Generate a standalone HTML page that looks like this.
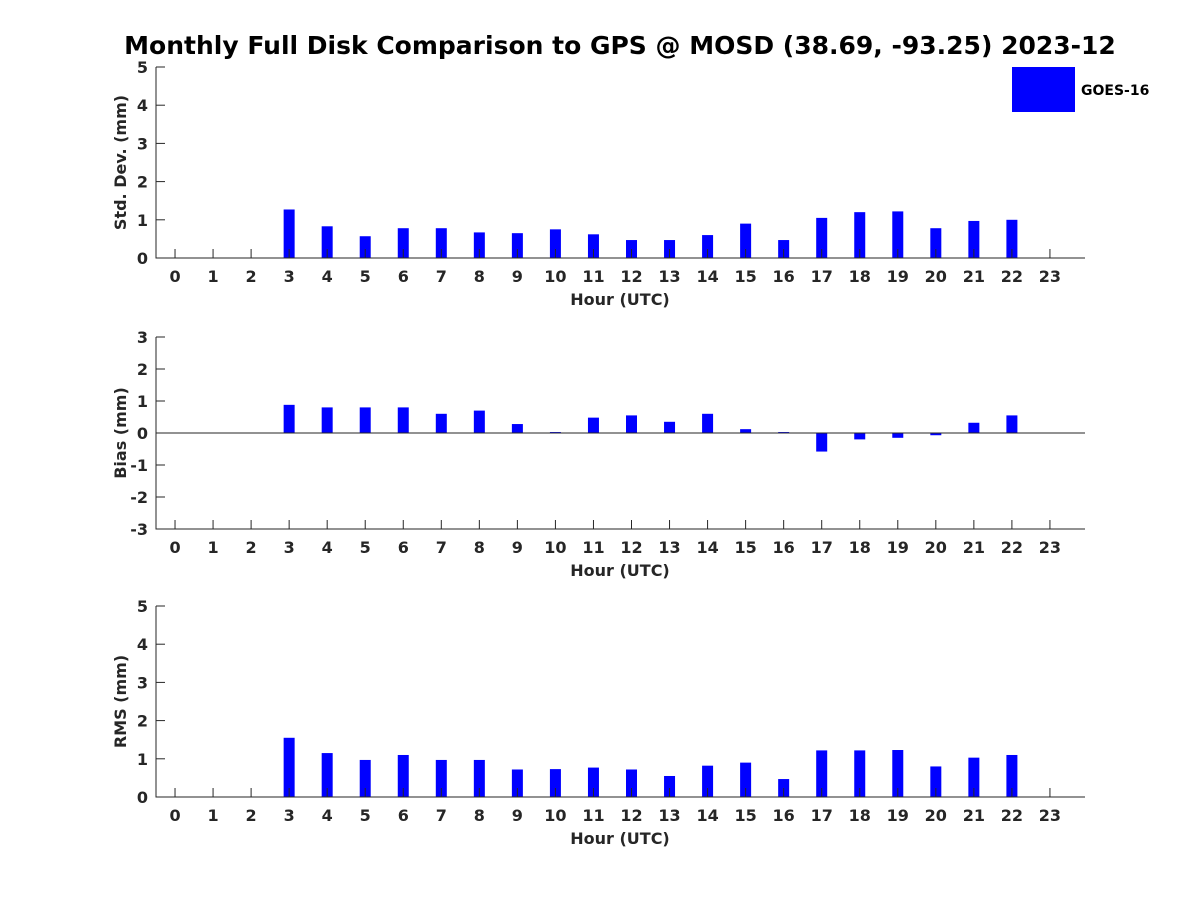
<!DOCTYPE html>
<html><head><meta charset="utf-8"><style>
body{margin:0;background:#fff;}
svg text{font-family:"DejaVu Sans","Liberation Sans",sans-serif;font-weight:bold;fill:#262626;}
</style></head><body>
<svg id="chart" width="1200" height="900" xmlns="http://www.w3.org/2000/svg">
<rect width="1200" height="900" fill="#fff"/>
<text x="620" y="54" font-size="25" text-anchor="middle" fill="#000" style="fill:#000">Monthly Full Disk Comparison to GPS @ MOSD (38.69, -93.25) 2023-12</text>
<rect x="1012" y="67" width="63" height="45" fill="#0000ff"/>
<text x="1081" y="95" font-size="14" style="fill:#000">GOES-16</text>
</svg>
<script>
const hours=[...Array(24).keys()];
const stdVals=[null,null,null,1.27,0.83,0.57,0.78,0.78,0.67,0.65,0.75,0.62,0.47,0.47,0.6,0.9,0.47,1.05,1.2,1.22,0.78,0.97,1.0,null];
const biasVals=[null,null,null,0.88,0.8,0.8,0.8,0.6,0.7,0.28,0.03,0.48,0.55,0.35,0.6,0.12,0.03,-0.58,-0.2,-0.15,-0.07,0.32,0.55,null];
const rmsVals=[null,null,null,1.55,1.15,0.97,1.1,0.97,0.97,0.72,0.73,0.77,0.72,0.55,0.82,0.9,0.47,1.22,1.22,1.23,0.8,1.03,1.1,null];
const stdTicks=[0,1,2,3,4,5];
const biasTicks=[-3,-2,-1,0,1,2,3];
const rmsTicks=[0,1,2,3,4,5];
const svg=document.getElementById('chart');
const NS='http://www.w3.org/2000/svg';
function mk(tag,attrs){const e=document.createElementNS(NS,tag);for(const k in attrs)e.setAttribute(k,attrs[k]);svg.appendChild(e);return e;}
const L=156,R=1085;
const xS=h=>L+(h+0.5)*38.04;
function panel(name,top,bot,ymin,ymax,vals,ticks,ylabel){
  const yS=v=>bot-(v-ymin)/(ymax-ymin)*(bot-top);
  const g=mk('g',{});
  
  
  vals.forEach((v,i)=>{
    if(v==null)return;
    const y0=yS(0),y1=yS(v);
    const b=mk('rect',{x:xS(i)-5.5,y:Math.min(y0,y1),width:11,height:Math.max(Math.abs(y1-y0),0.8),fill:'#0000ff'});
    
    
  });
  const ax=mk('path',{d:`M${L},${top}V${bot}H${R}`,stroke:'#262626','stroke-width':1,fill:'none'});
  
  
  if(ymin<0){const z=mk('line',{x1:L,x2:R,y1:yS(0),y2:yS(0),stroke:'#262626'});}
  ticks.forEach(t=>{
    const y=yS(t);
    mk('line',{x1:L,x2:L+9,y1:y,y2:y,stroke:'#262626'});
    const tx=mk('text',{x:L-8,y:y+6,'font-size':16,'text-anchor':'end'});tx.textContent=t;
    
    
  });
  hours.forEach(h=>{
    const x=xS(h);
    mk('line',{x1:x,x2:x,y1:bot,y2:bot-9,stroke:'#262626'});
    const tx=mk('text',{x:x,y:bot+24,'font-size':16,'text-anchor':'middle'});tx.textContent=h;
    
    
  });
  const xl=mk('text',{x:620,y:bot+47,'font-size':16,'text-anchor':'middle'});xl.textContent='Hour (UTC)';
  
  
  const cy=(top+bot)/2;
  const yl=mk('text',{x:126,y:cy,'font-size':16,'text-anchor':'middle',transform:`rotate(-90 126 ${cy})`});yl.textContent=ylabel;
  
  
}
panel('std-dev',67,258,0,5,stdVals,stdTicks,'Std. Dev. (mm)');
panel('bias',337,529,-3,3,biasVals,biasTicks,'Bias (mm)');
panel('rms',606,797,0,5,rmsVals,rmsTicks,'RMS (mm)');
</script>
</body></html>
